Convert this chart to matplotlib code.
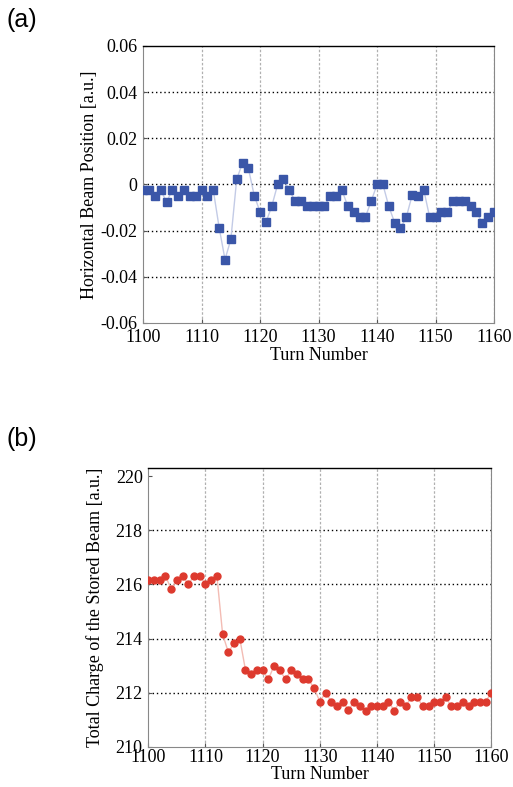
import numpy as np
import matplotlib.pyplot as plt

turns = np.arange(1100, 1161)

# horizontal beam position
position = [
    -0.0025, -0.0025, -0.005, -0.0025, -0.0075, -0.0025, -0.005, -0.0025, -0.005, -0.005,
    -0.0025, -0.005, -0.0025, -0.0187, -0.0325, -0.0238, 0.0023, 0.0093, 0.007, -0.0048,
    -0.0119, -0.0164, -0.0094, 0.0, 0.0023, -0.0025, -0.0072, -0.0072, -0.0094, -0.0094,
    -0.0094, -0.0094, -0.0048, -0.0048, -0.0025, -0.0094, -0.012, -0.0142, -0.0142, -0.0072,
    0.0, 0.0, -0.0094, -0.0165, -0.019, -0.0142, -0.0046, -0.005, -0.0025, -0.0142,
    -0.0142, -0.012, -0.012, -0.0072, -0.0072, -0.0072, -0.0094, -0.012, -0.0165, -0.0142,
    -0.012,
]

# total charge of the stored beam
charge = [
    216.16, 216.16, 216.16, 216.32, 215.83, 216.16, 216.32, 216.0, 216.32, 216.32,
    216.0, 216.16, 216.32, 214.16, 213.49, 213.83, 214.0, 212.83, 212.67, 212.83,
    212.83, 212.49, 213.0, 212.83, 212.49, 212.83, 212.67, 212.49, 212.49, 212.16,
    211.67, 212.0, 211.67, 211.49, 211.67, 211.35, 211.67, 211.49, 211.33, 211.49,
    211.49, 211.49, 211.67, 211.33, 211.67, 211.49, 211.83, 211.83, 211.49, 211.49,
    211.67, 211.67, 211.83, 211.49, 211.49, 211.67, 211.49, 211.67, 211.67, 211.67,
    212.0,
]

x_ticks = [1100, 1110, 1120, 1130, 1140, 1150, 1160]
pos_ticks = [-0.06, -0.04, -0.02, 0, 0.02, 0.04, 0.06]
pos_labels = ['-0.06', '-0.04', '-0.02', '0', '0.02', '0.04', '0.06']
charge_ticks = [210, 212, 214, 216, 218, 220]

serif = 'Liberation Serif'


def style_axes(ax, yticks, xpad):
    ax.set_xlim(1100, 1160)
    ax.set_xticks(x_ticks)
    for y in yticks[1:-1]:
        ax.axhline(y, color='black', ls=(0, (1, 2)), lw=1.0, zorder=1)
    for x in x_ticks[1:]:
        ax.axvline(x, color='#b0b0b0', ls=(0, (2, 1.5)), lw=0.9, zorder=1)
    for side in ['left', 'bottom', 'right']:
        ax.spines[side].set_color('#888888')
        ax.spines[side].set_linewidth(0.8)
    ax.spines['top'].set_color('black')
    ax.spines['top'].set_linewidth(1.0)
    ax.tick_params(direction='in', length=3, width=0.8, colors='#555555',
                   labelcolor='black', labelsize=13)
    ax.tick_params(axis='x', pad=xpad)
    ax.tick_params(axis='y', pad=4)
    for lab in ax.get_xticklabels() + ax.get_yticklabels():
        lab.set_fontfamily(serif)


fig = plt.figure(figsize=(5.13, 7.87), dpi=100)

ax1 = fig.add_axes([0.279, 0.5896, 0.684, 0.352])
ax1.plot(turns, position, color='#c3cbe6', lw=1.0, zorder=2)
ax1.plot(turns, position, ls='none', marker='s', ms=5.4, color='#3a56a8', zorder=3)
ax1.set_ylim(-0.06, 0.06)
ax1.set_yticks(pos_ticks)
ax1.set_yticklabels(pos_labels)
style_axes(ax1, pos_ticks, 4)
ax1.set_xlabel('Turn Number', fontfamily=serif, fontsize=13, labelpad=1)
ax1.set_ylabel('Horizontal Beam Position [a.u.]', fontfamily=serif, fontsize=13, labelpad=2)
fig.text(0.012, 0.974, '(a)', fontsize=18, fontfamily='Liberation Sans', va='center')

ax2 = fig.add_axes([0.289, 0.0512, 0.669, 0.354])
ax2.plot(turns, charge, color='#f3bcb4', lw=1.0, zorder=2)
ax2.plot(turns, charge, ls='none', marker='o', ms=5.0, color='#dd3a2e', zorder=3)
ax2.set_ylim(210, 220.3)
ax2.set_yticks(charge_ticks)
style_axes(ax2, charge_ticks, 2)
ax2.set_xlabel('Turn Number', fontfamily=serif, fontsize=13, labelpad=0)
ax2.set_ylabel('Total Charge of the Stored Beam [a.u.]', fontfamily=serif, fontsize=13, labelpad=8)
fig.text(0.012, 0.442, '(b)', fontsize=18, fontfamily='Liberation Sans', va='center')

fig.savefig('out.png', dpi=100)
